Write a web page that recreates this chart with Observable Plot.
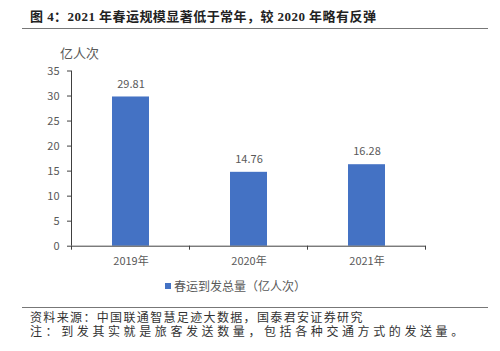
<!DOCTYPE html>
<html><head><meta charset="utf-8">
<script src="https://cdn.jsdelivr.net/npm/d3@7"></script>
<script src="https://cdn.jsdelivr.net/npm/@observablehq/plot@0.6"></script>
<style>
body{margin:0;background:#fff;width:500px;height:351px;position:relative;overflow:hidden;font-family:"Noto Sans CJK SC",sans-serif}
.abs{position:absolute;white-space:nowrap}
#title{left:30px;top:6px;font-family:"Liberation Serif","Noto Sans CJK SC",serif;font-weight:bold;font-size:13px;color:#222;letter-spacing:0.45px}
.hr{left:22px;width:466px;height:0;border-top:1.5px solid #777}
#ylab{left:60px;top:43px;font-size:13px;color:#595959}
#legend{left:165px;top:277px;font-size:12px;color:#595959;display:flex;align-items:center}
#legend span.sw{display:inline-block;width:6px;height:6px;background:#4472C4;margin-right:3px}
.foot{left:30px;font-family:"Liberation Serif","Noto Sans CJK SC",serif;font-size:12px;line-height:13px;color:#333}
#chart{position:absolute;left:0;top:36px}
</style></head>
<body>
<div id="title" class="abs">图 4：2021 年春运规模显著低于常年，较 2020 年略有反弹</div>
<div class="abs hr" style="top:28px"></div>
<div id="ylab" class="abs">亿人次</div>
<div id="chart"></div>
<div id="legend" class="abs"><span class="sw"></span>春运到发总量（亿人次）</div>
<div class="abs hr" style="top:307px"></div>
<div class="abs foot" style="top:312px;letter-spacing:1.35px">资料来源：中国联通智慧足迹大数据，国泰君安证券研究</div>
<div class="abs foot" style="top:326px;letter-spacing:3.6px">注：到发其实就是旅客发送数量，包括各种交通方式的发送量。</div>
<script>
const years = ["2019年", "2020年", "2021年"];
const values = [29.81, 14.76, 16.28];
const labels = ["29.81", "14.76", "16.28"];
const yTicks = [0, 5, 10, 15, 20, 25, 30, 35];

const data = years.map((y, i) => ({year: y, value: values[i], label: labels[i]}));
const pad = 0.69;
const chart = Plot.plot({
  width: 500,
  height: 240,
  marginTop: 34.5,
  marginBottom: 30.3,
  marginLeft: 71,
  marginRight: 74.5,
  style: {fontFamily: "'Noto Sans CJK SC', sans-serif", fontSize: "11px", color: "#595959", background: "transparent"},
  x: {domain: years, paddingInner: pad, paddingOuter: pad / 2, label: null},
  y: {domain: [0, 35], label: null},
  marks: [
    Plot.barY(data, {x: "year", y: "value", fill: "#4472C4"}),
    Plot.text(data, {x: "year", y: "value", text: "label", dy: -13, fill: "#595959", fontSize: 11}),
    Plot.axisX({tickSize: 0, tickPadding: 11, fontSize: 11, fill: "#595959"}),
    Plot.axisY({ticks: yTicks, tickSize: 4, tickPadding: 8, fontSize: 11, fill: "#595959", stroke: "#404040"}),
    Plot.ruleY([0], {stroke: "#404040"})
  ]
});
document.getElementById("chart").appendChild(chart);

// axis line and category boundary ticks derived from the plot's scales
const xs = chart.scale("x"), ys = chart.scale("y");
const svg = d3.select(chart);
const y0 = ys.apply(0), yTop = ys.apply(35);
const gap = (xs.step - xs.bandwidth) / 2;
const edges = years.map(y => xs.apply(y) - gap);
edges.push(xs.apply(years[years.length - 1]) + xs.bandwidth + gap);
svg.append("line").attr("x1", edges[0]).attr("x2", edges[0]).attr("y1", yTop).attr("y2", y0).attr("stroke", "#404040");
svg.selectAll("line.edge").data(edges).join("line").attr("class", "edge")
  .attr("x1", d => d).attr("x2", d => d).attr("y1", y0).attr("y2", y0 + 4).attr("stroke", "#404040");
</script>
</body></html>
